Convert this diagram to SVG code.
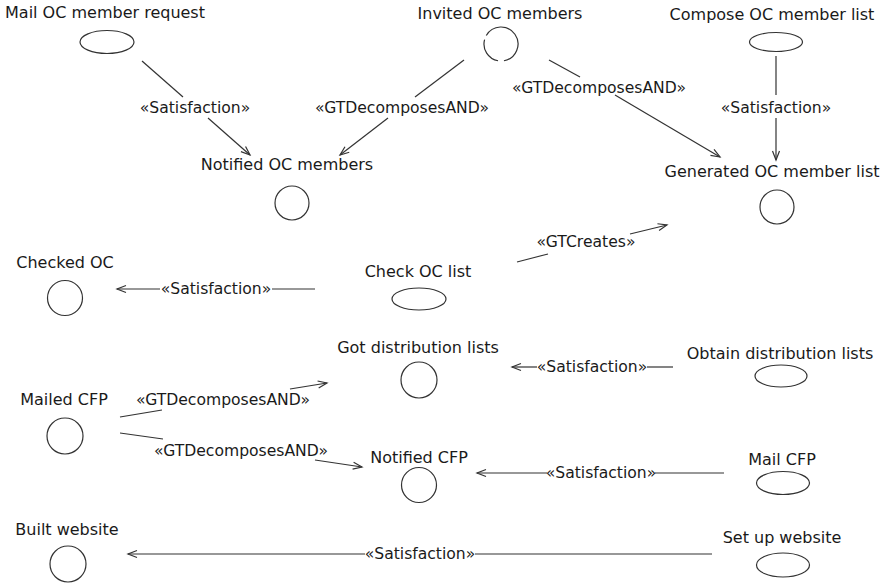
<svg xmlns="http://www.w3.org/2000/svg" width="889" height="585" viewBox="0 0 889 585">
<style>
text{font-family:"DejaVu Sans","Liberation Sans",sans-serif;fill:#1a1a1a}
.n{font-size:16px;text-anchor:middle}
.l{font-size:15.6px;text-anchor:middle}
.s{fill:#fff;stroke:#333;stroke-width:1.2}
.c{stroke:#333;stroke-width:1.2;fill:none}
.a{marker-end:url(#arr)}
</style>
<defs>
<marker id="arr" markerUnits="userSpaceOnUse" markerWidth="12" markerHeight="10" viewBox="-10 -5 12 10" refX="0" refY="0" orient="auto">
<path d="M-9,-3.5 L0,0 L-9,3.5" fill="none" stroke="#333" stroke-width="1.2"/>
</marker>
</defs>
<rect width="889" height="585" fill="#fff"/>
<g id="connectors">
<line class="c" x1="142" y1="61" x2="183" y2="97"/>
<line class="c a" x1="208" y1="118" x2="250" y2="155"/>
<text class="l" x="195" y="113">«Satisfaction»</text>
<line class="c" x1="464" y1="60" x2="415" y2="97"/>
<line class="c a" x1="388" y1="118" x2="340" y2="155"/>
<text class="l" x="402" y="113">«GTDecomposesAND»</text>
<line class="c" x1="549" y1="60" x2="580" y2="77"/>
<line class="c a" x1="615" y1="95" x2="720" y2="157"/>
<text class="l" x="599" y="93">«GTDecomposesAND»</text>
<line class="c" x1="776" y1="56" x2="776" y2="95"/>
<line class="c a" x1="776" y1="118" x2="776" y2="160"/>
<text class="l" x="776" y="113">«Satisfaction»</text>
<line class="c" x1="517" y1="262" x2="548" y2="254"/>
<line class="c a" x1="630" y1="234" x2="667" y2="225"/>
<text class="l" x="586" y="247">«GTCreates»</text>
<line class="c" x1="315" y1="289" x2="272" y2="289"/>
<line class="c a" x1="160" y1="289" x2="117" y2="289"/>
<text class="l" x="216" y="294">«Satisfaction»</text>
<line class="c" x1="673" y1="367" x2="647" y2="367"/>
<line class="c a" x1="537" y1="367" x2="512" y2="367"/>
<text class="l" x="592" y="372">«Satisfaction»</text>
<line class="c" x1="120" y1="417" x2="162" y2="410"/>
<line class="c a" x1="290" y1="389" x2="327" y2="383"/>
<text class="l" x="223" y="405">«GTDecomposesAND»</text>
<line class="c" x1="120" y1="433" x2="163" y2="439"/>
<line class="c a" x1="315" y1="460" x2="362" y2="467"/>
<text class="l" x="241" y="456">«GTDecomposesAND»</text>
<line class="c" x1="724" y1="473" x2="655" y2="473"/>
<line class="c a" x1="547" y1="473" x2="477" y2="473"/>
<text class="l" x="601" y="478">«Satisfaction»</text>
<line class="c" x1="712" y1="554" x2="475" y2="554"/>
<line class="c a" x1="365" y1="554" x2="128" y2="554"/>
<text class="l" x="420" y="559">«Satisfaction»</text>
</g>
<g id="mail-oc-member-request"><text class="n" x="105" y="18">Mail OC member request</text><ellipse class="s" cx="107" cy="42" rx="27" ry="11.5"/></g>
<g id="invited-oc-members"><text class="n" x="500" y="19">Invited OC members</text><path class="c" d="M498.05,60.74 A17,17 0 0 1 484.58,39.6 M486.28,35.5 A17,17 0 1 1 503.95,60.74"/></g>
<g id="compose-oc-member-list"><text class="n" x="772" y="20">Compose OC member list</text><ellipse class="s" cx="776" cy="42" rx="26.5" ry="9.5"/></g>
<g id="notified-oc-members"><text class="n" x="287" y="170">Notified OC members</text><circle class="s" cx="292" cy="203" r="17"/></g>
<g id="generated-oc-member-list"><text class="n" x="772" y="177">Generated OC member list</text><circle class="s" cx="777" cy="207" r="17"/></g>
<g id="checked-oc"><text class="n" x="65" y="268">Checked OC</text><circle class="s" cx="65" cy="298" r="17.5"/></g>
<g id="check-oc-list"><text class="n" x="418" y="277">Check OC list</text><ellipse class="s" cx="419" cy="299" rx="27" ry="11"/></g>
<g id="got-distribution-lists"><text class="n" x="418" y="353">Got distribution lists</text><circle class="s" cx="419" cy="380" r="18"/></g>
<g id="obtain-distribution-lists"><text class="n" x="780" y="359">Obtain distribution lists</text><ellipse class="s" cx="781" cy="376" rx="26" ry="11"/></g>
<g id="mailed-cfp"><text class="n" x="64" y="405">Mailed CFP</text><circle class="s" cx="65" cy="436" r="18"/></g>
<g id="notified-cfp"><text class="n" x="419" y="463">Notified CFP</text><circle class="s" cx="419" cy="485" r="17.5"/></g>
<g id="mail-cfp"><text class="n" x="782" y="465">Mail CFP</text><ellipse class="s" cx="783" cy="483" rx="26.5" ry="11.5"/></g>
<g id="built-website"><text class="n" x="67" y="535">Built website</text><circle class="s" cx="68" cy="564" r="18"/></g>
<g id="set-up-website"><text class="n" x="782" y="543">Set up website</text><ellipse class="s" cx="783" cy="565" rx="26.5" ry="12"/></g>
</svg>
